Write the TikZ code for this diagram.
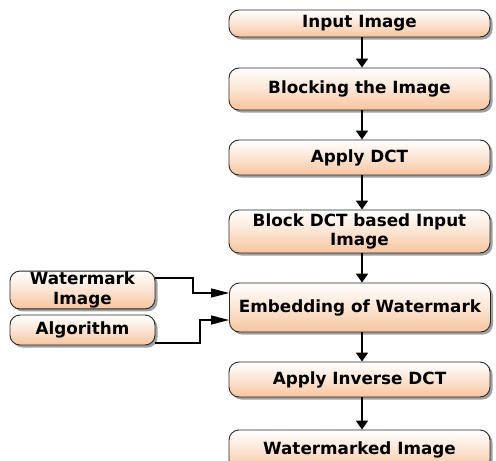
\documentclass[tikz,border=0pt]{standalone}
\usepackage{fontspec}
\setmainfont{DejaVu Sans}
\usetikzlibrary{arrows.meta,shadows}
\definecolor{peach}{RGB}{247,196,158}
\definecolor{edge}{RGB}{40,40,40}
\tikzset{
  stepbox/.style={draw=edge, line width=0.9pt, rounded corners=10pt,
    top color=white, bottom color=peach, middle color=white!55!peach,
    drop shadow={shadow xshift=2.5pt, shadow yshift=-2.5pt, fill=black!50, opacity=0.75},
    align=center, inner sep=1pt, font=\bfseries\fontsize{16.8}{19.5}\selectfont},
  flow/.style={line width=1.8pt, -{Triangle[length=9pt,width=12pt]}},
  feed/.style={line width=1.3pt, -{Triangle[length=18pt,width=9pt]}}
}
\begin{document}
\begin{tikzpicture}[x=1pt,y=-1pt]
\useasboundingbox (0,0) rectangle (496,461);
\clip (0,0) rectangle (496,461);
\node[stepbox, minimum width=261pt, minimum height=27pt] (in) at (359.5,23.5) {Input Image};
\node[stepbox, minimum width=261pt, minimum height=42pt] (blk) at (359.5,89) {Blocking the Image};
\node[stepbox, minimum width=261pt, minimum height=35pt] (dct) at (359.5,157.5) {Apply DCT};
\node[stepbox, minimum width=261pt, minimum height=43pt] (bdct) at (359.5,231.5) {Block DCT based Input\\Image};
\node[stepbox, minimum width=261pt, minimum height=49pt] (emb) at (360,307.5) {Embedding of Watermark};
\node[stepbox, minimum width=261pt, minimum height=35pt] (idct) at (359.5,379.5) {Apply Inverse DCT};
\node[stepbox, minimum width=261pt, minimum height=40pt] (out) at (359.5,450) {Watermarked Image};
\node[stepbox, minimum width=145pt, minimum height=36pt] (wm) at (82.5,290) {Watermark\\Image};
\node[stepbox, minimum width=145pt, minimum height=30pt] (alg) at (82.5,330) {Algorithm};

\coordinate (cx) at (362,0);
\draw[flow] (in.south -| cx) -- (blk.north -| cx);
\draw[flow] (blk.south -| cx) -- (dct.north -| cx);
\draw[flow] (dct.south -| cx) -- (bdct.north -| cx);
\draw[flow] (bdct.south -| cx) -- (emb.north -| cx);
\draw[flow] (emb.south -| cx) -- (idct.north -| cx);
\draw[flow] (idct.south -| cx) -- (out.north -| cx);

% elbow x positions of the two side feeds
\coordinate (k1) at (193,0);
\coordinate (k2) at (200,0);
\coordinate (wmout) at ([yshift=12pt]wm.east);
\coordinate (algout) at ([yshift=-13pt]alg.east);
\coordinate (embin1) at ([yshift=14.5pt]emb.west);
\coordinate (embin2) at ([yshift=-12.5pt]emb.west);
\draw[feed] (wmout) -- (wmout -| k1) -- (embin1 -| k1) -- (embin1);
\draw[feed] (algout) -- (algout -| k2) -- (embin2 -| k2) -- (embin2);
\end{tikzpicture}
\end{document}
